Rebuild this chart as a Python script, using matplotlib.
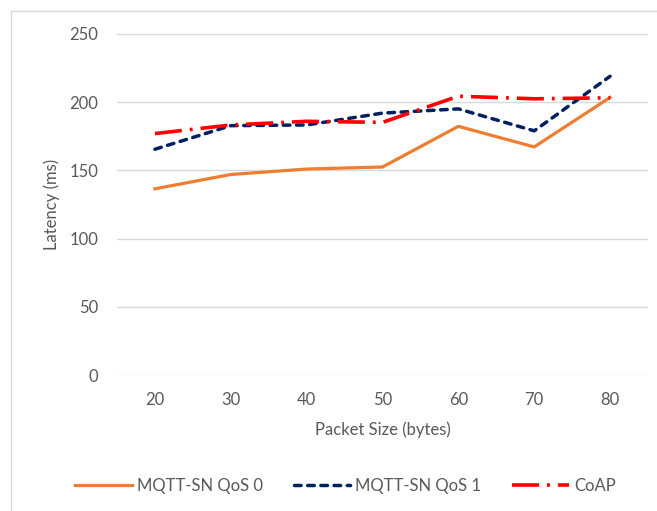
import matplotlib.pyplot as plt
from matplotlib.patches import Rectangle

# data
packet_sizes = ['20', '30', '40', '50', '60', '70', '80']
mqtt_qos0 = [136.5, 147, 151, 152.5, 182.3, 167.2, 203.5]
mqtt_qos1 = [165.5, 182.8, 183.3, 192, 195.1, 179, 219]
coap = [177, 183.3, 186, 185.2, 204.4, 202.5, 203.2]

plt.rcParams['font.family'] = ['Lato', 'DejaVu Sans']
text_color = '#595959'
grid_color = '#d9d9d9'

fig = plt.figure(figsize=(6.57, 5.11), dpi=100)
W, H = 657, 511
ax = fig.add_axes([117 / W, 1 - 375 / H, (648 - 117) / W, (375 - 34) / H])

x = range(len(packet_sizes))
ax.plot(x, mqtt_qos0, color='#ED7D31', lw=2.3, label='MQTT-SN QoS 0')
ax.plot(x, mqtt_qos1, color='#002060', lw=2.5, dashes=(1.9, 1.9), dash_capstyle='round',
        label='MQTT-SN QoS 1')
ax.plot(x, coap, color='#FF0000', lw=2.6, dashes=(7.5, 2.2, 0.8, 2.2), label='CoAP')

ax.set_xlim(-0.5, len(packet_sizes) - 0.5)
ax.set_ylim(0, 250)
ax.set_yticks(range(0, 251, 50))
ax.set_xticks(list(x))
ax.set_xticklabels(packet_sizes)
ax.grid(axis='y', color=grid_color, lw=1)
ax.set_axisbelow(True)
for s in ax.spines.values():
    s.set_visible(False)
ax.tick_params(length=0, labelsize=12, colors=text_color)
ax.tick_params(axis='x', pad=12)
ax.tick_params(axis='y', pad=13.5)

ax.set_xlabel('Packet Size (bytes)', fontsize=12, color=text_color, va='center')
ax.xaxis.set_label_coords(0.5, -(430 - 375) / 341)
ax.set_ylabel('Latency (ms)', fontsize=12, color=text_color, va='center')
ax.yaxis.set_label_coords(-(117 - 52) / 531, 0.5)

ax.legend(loc='center', bbox_to_anchor=(345.5 / W, 1 - 486 / H), bbox_transform=fig.transFigure,
          ncol=3, frameon=False, fontsize=12, handlelength=3.4, columnspacing=1.85,
          handletextpad=0.3, labelcolor=text_color)

# chart border
fig.add_artist(Rectangle((11 / W, -0.1), 1.2, 1 - 11 / H + 0.1, transform=fig.transFigure,
                         fill=False, edgecolor=grid_color, lw=1))

fig.savefig('out.png', dpi=100)
